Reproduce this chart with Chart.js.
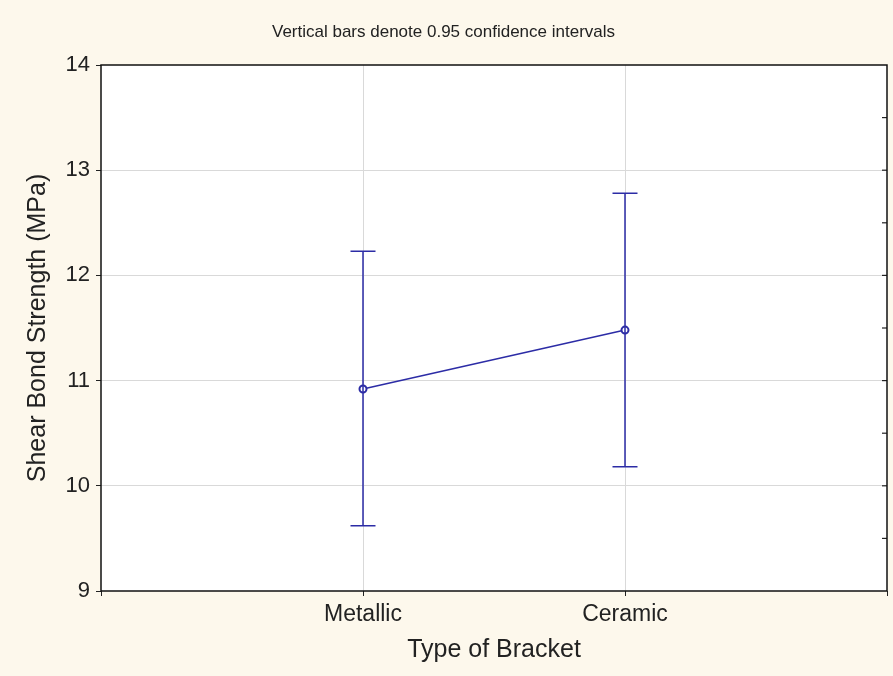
<!DOCTYPE html>
<html>
<head>
<meta charset="utf-8">
<script src="https://cdn.jsdelivr.net/npm/chart.js@4/dist/chart.umd.min.js"></script>
<style>
  html, body { margin: 0; padding: 0; background: #fdf8ec; }
  #wrap { width: 893px; height: 676px; }
</style>
</head>
<body>
<div id="wrap"><canvas id="chart" width="893" height="676"></canvas></div>
<script>
// Data
let categories = ['Metallic', 'Ceramic'];
let categoryPos = [1, 2];
let means = [10.92, 11.48];
let lowerCI = [9.62, 10.18];
let upperCI = [12.23, 12.78];
let yTicks = [9, 10, 11, 12, 13, 14];

let lineColor = '#2c2ca6';
let gridColor = '#d9d9d9';

let points = categoryPos.map((x, i) => ({ x: x, y: means[i] }));

//=======================================
//  Plugins: white plot area, frame, error bars, right ticks
//=======================================
let plotBackground = {
  id: 'plotBackground',
  beforeDraw(chart) {
    let { ctx, chartArea: a } = chart;
    ctx.save();
    ctx.fillStyle = '#ffffff';
    ctx.fillRect(a.left, a.top, a.right - a.left, a.bottom - a.top);
    ctx.restore();
  }
};

let errorBars = {
  id: 'errorBars',
  afterDatasetsDraw(chart) {
    let { ctx, scales } = chart;
    let xs = scales.x, ys = scales.y;
    ctx.save();
    ctx.strokeStyle = lineColor;
    ctx.lineWidth = 1.5;
    categoryPos.forEach((c, i) => {
      let px = xs.getPixelForValue(c);
      let top = ys.getPixelForValue(upperCI[i]);
      let bot = ys.getPixelForValue(lowerCI[i]);
      ctx.beginPath();
      ctx.moveTo(px, top); ctx.lineTo(px, bot);
      ctx.moveTo(px - 12.5, top); ctx.lineTo(px + 12.5, top);
      ctx.moveTo(px - 12.5, bot); ctx.lineTo(px + 12.5, bot);
      ctx.stroke();
    });
    ctx.restore();
  }
};

let frame = {
  id: 'frame',
  afterDraw(chart) {
    let { ctx, chartArea: a, scales } = chart;
    ctx.save();
    // inward ticks on the right edge
    ctx.strokeStyle = '#222';
    ctx.lineWidth = 1.2;
    for (let v = 9.5; v < 14; v += 0.5) {
      let py = scales.y.getPixelForValue(v);
      ctx.beginPath();
      ctx.moveTo(a.right, py); ctx.lineTo(a.right - 5, py);
      ctx.stroke();
    }
    ctx.strokeStyle = '#111';
    ctx.lineWidth = 1.5;
    ctx.strokeRect(a.left, a.top, a.right - a.left, a.bottom - a.top);
    ctx.restore();
  }
};

let ctx = document.getElementById('chart');

new Chart(ctx, {
  type: 'line',
  data: {
    datasets: [{
      data: points,
      borderColor: lineColor,
      borderWidth: 1.5,
      backgroundColor: '#ffffff',
      pointRadius: 3.5,
      pointBorderWidth: 2,
      pointBorderColor: lineColor,
      pointBackgroundColor: '#ffffff',
      tension: 0
    }]
  },
  options: {
    responsive: false,
    animation: false,
    layout: { padding: { left: 0, right: 6, top: 0, bottom: 0 } },
    plugins: {
      legend: { display: false },
      tooltip: { enabled: false },
      title: {
        display: true,
        text: 'Vertical bars denote 0.95 confidence intervals',
        color: '#222',
        font: { family: 'Liberation Sans, Arial', size: 17, weight: 'normal' },
        padding: { top: 22, bottom: 22.6 }
      }
    },
    scales: {
      x: {
        type: 'linear',
        min: 0,
        max: 3,
        afterFit(scale) { scale.height = 85; },
        afterBuildTicks(scale) { scale.ticks = [0, 1, 2, 3].map(v => ({ value: v })); },
        ticks: {
          color: '#222',
          padding: 5,
          font: { family: 'Liberation Sans, Arial', size: 23 },
          maxRotation: 0,
          callback: v => (categoryPos.indexOf(v) >= 0 ? categories[categoryPos.indexOf(v)] : '')
        },
        grid: {
          color: c => (c.tick && categoryPos.indexOf(c.tick.value) >= 0 ? gridColor : 'rgba(0,0,0,0)'),
          tickColor: '#222',
          tickLength: 5,
          drawOnChartArea: true
        },
        border: { display: false },
        title: {
          display: true,
          text: 'Type of Bracket',
          color: '#222',
          font: { family: 'Liberation Sans, Arial', size: 25 },
          padding: { top: 0, bottom: 11 }
        }
      },
      y: {
        min: 9,
        max: 14,
        afterFit(scale) { scale.width = 101; },
        afterBuildTicks(scale) { scale.ticks = yTicks.map(v => ({ value: v })); },
        ticks: {
          color: '#222',
          padding: 6,
          font: { family: 'Liberation Sans, Arial', size: 22 }
        },
        grid: {
          color: c => (c.tick && c.tick.value > 9 && c.tick.value < 14 ? gridColor : 'rgba(0,0,0,0)'),
          tickColor: '#222',
          tickLength: 5
        },
        border: { display: false },
        title: {
          display: true,
          text: 'Shear Bond Strength (MPa)',
          color: '#222',
          font: { family: 'Liberation Sans, Arial', size: 25 },
          padding: { top: 23, bottom: 0 }
        }
      }
    }
  },
  plugins: [plotBackground, errorBars, frame]
});
</script>
</body>
</html>
